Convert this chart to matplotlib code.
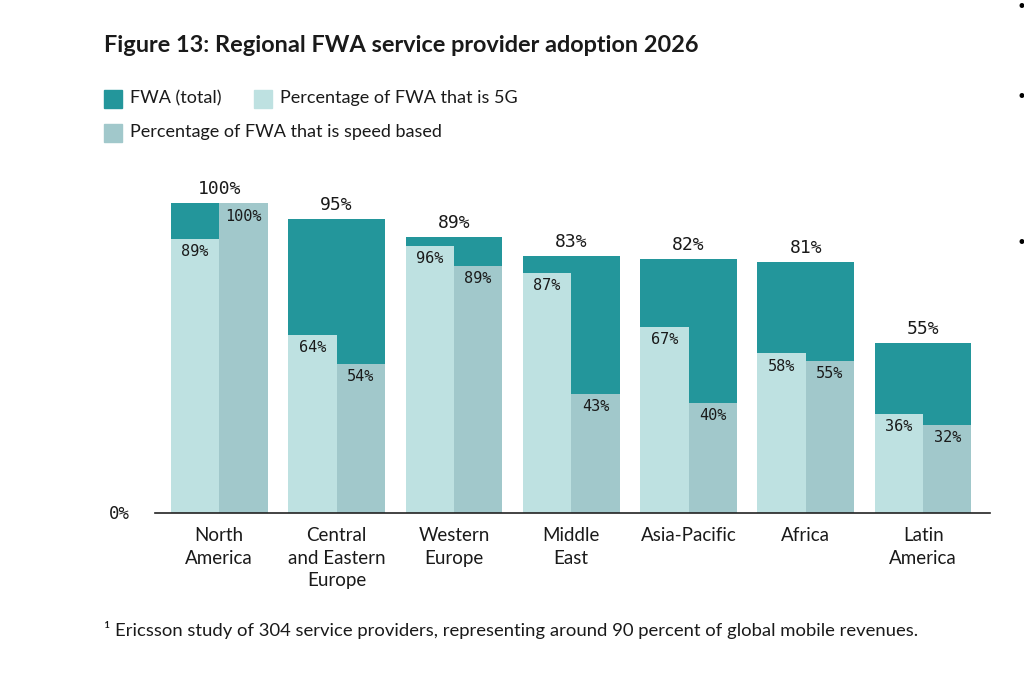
import matplotlib
matplotlib.use("Agg")
import matplotlib.pyplot as plt
from matplotlib.patches import Rectangle

regions = ["North\nAmerica", "Central\nand Eastern\nEurope", "Western\nEurope",
           "Middle\nEast", "Asia-Pacific", "Africa", "Latin\nAmerica"]
fwa_total = [100, 95, 89, 83, 82, 81, 55]
pct_5g = [89, 64, 96, 87, 67, 58, 36]
pct_speed = [100, 54, 89, 43, 40, 55, 32]
# bar heights as drawn in the source picture (percent of axis)
height_5g = [88.5, 57.6, 86.3, 77.6, 60.1, 51.7, 32.1]
height_speed = [100, 48.3, 79.9, 38.6, 35.7, 49.2, 28.6]

dark = "#23969b"
light = "#bee1e1"
mid = "#a1c8cb"
txt = "#1a1a1a"

W, H = 1024, 675
fig = plt.figure(figsize=(W / 100, H / 100), dpi=100)

def fx(px):
  return px / W

def fy(py):
  return 1 - py / H

ax = fig.add_axes([fx(155), fy(513.3), fx(990) - fx(155), fy(170) - fy(513.3)])
ax.set_xlim(-0.548, 6.57)
ax.set_ylim(0, 110.7)

x = list(range(len(regions)))
bw = 0.824
half = bw / 2
ax.bar(x, fwa_total, width=bw, color=dark, zorder=1)
ax.bar([i - half / 2 for i in x], height_5g, width=half, color=light, zorder=2)
ax.bar([i + half / 2 for i in x], height_speed, width=half, color=mid, zorder=2)

mono = "DejaVu Sans Mono"
for i in x:
  ax.annotate(f"{fwa_total[i]}%", (i, fwa_total[i]), xytext=(0, 3.5), textcoords="offset points",
              ha="center", va="bottom", fontsize=13, family=mono, color=txt)
  ax.annotate(f"{pct_5g[i]}%", (i - half / 2, height_5g[i]), xytext=(0, -4),
              textcoords="offset points", ha="center", va="top", fontsize=11,
              family=mono, color=txt, zorder=3)
  ax.annotate(f"{pct_speed[i]}%", (i + half / 2, height_speed[i]), xytext=(0, -4),
              textcoords="offset points", ha="center", va="top", fontsize=11,
              family=mono, color=txt, zorder=3)

for s in ["top", "right", "left"]:
  ax.spines[s].set_visible(False)
ax.spines["bottom"].set_color("#222222")
ax.spines["bottom"].set_linewidth(1.2)
ax.set_yticks([])
ax.set_xticks(x)
ax.set_xticklabels(regions, fontsize=13.5, family="Lato", color=txt, linespacing=1.38)
ax.tick_params(axis="x", length=0, pad=10)
fig.text(fx(130), fy(514), "0%", ha="right", va="center", fontsize=12.5, family=mono, color=txt)

fig.text(fx(104), fy(46), "Figure 13: Regional FWA service provider adoption 2026",
         fontsize=16.9, fontweight="bold", family="Lato", color=txt, va="center")

legend = [("FWA (total)", dark, 103.5, 98.5), ("Percentage of FWA that is 5G", light, 253.5, 98.5),
          ("Percentage of FWA that is speed based", mid, 103.5, 132.5)]
for label, col, lx, ly in legend:
  fig.patches.append(Rectangle((fx(lx), fy(ly + 9)), 18 / W, 18 / H, color=col,
                               transform=fig.transFigure))
  fig.text(fx(lx + 26.5), fy(ly), label, fontsize=13, family="Lato", color=txt, va="center")

fig.text(fx(104), fy(630),
         "\u00b9 Ericsson study of 304 service providers, representing around 90 percent of global mobile revenues.",
         fontsize=13.3, family="Lato", color=txt, va="center")

for by in [7, 97, 243]:
  fig.text(fx(1021), fy(by), "\u2022", fontsize=12, ha="center", va="center", color="black")

fig.savefig("out.png", dpi=100)
